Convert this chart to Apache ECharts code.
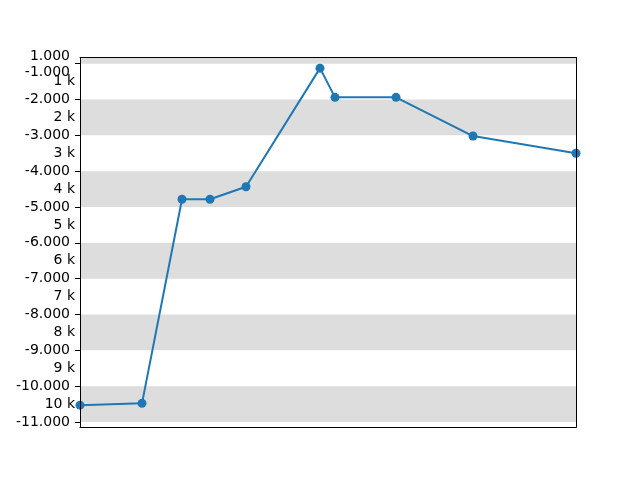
<!DOCTYPE html>
<html>
<head>
<meta charset="utf-8">
<script src="https://cdn.jsdelivr.net/npm/echarts@6/dist/echarts.min.js"></script>
<style>html,body{margin:0;padding:0;background:#fff}#c{width:640px;height:480px}</style>
</head>
<body>
<div id="c"></div>
<script>
// Data
var xValues = [0, 62, 102, 130, 166, 240, 255, 316, 393, 496];
var yValues = [-10530, -10480, -4785, -4785, -4435, -1125, -1940, -1940, -3020, -3500];

// Tick labels
var majorTickValues = [-1000, -2000, -3000, -4000, -5000, -6000, -7000, -8000, -9000, -10000, -11000];
var majorTickLabels = ['1.000\n-1.000', '-2.000', '-3.000', '-4.000', '-5.000', '-6.000', '-7.000', '-8.000', '-9.000', '-10.000', '-11.000'];
var minorTickValues = [-1500, -2500, -3500, -4500, -5500, -6500, -7500, -8500, -9500, -10500];
var minorTickLabels = ['1 k', '2 k', '3 k', '4 k', '5 k', '6 k', '7 k', '8 k', '9 k', '10 k'];

// Shaded horizontal bands
var bandStarts = [0, -2000, -4000, -6000, -8000, -10000];
var bandEnds = [-1000, -3000, -5000, -7000, -9000, -11000];

var yMin = -11146, yMax = -831;
var xMin = 0, xMax = 496;

var font = 'DejaVu Sans';
var chart = echarts.init(document.getElementById('c'), null, {renderer: 'canvas'});

var points = xValues.map(function (x, i) { return [x, yValues[i]]; });
var bands = bandStarts.map(function (s, i) { return [{yAxis: s}, {yAxis: bandEnds[i]}]; });

var lineStyle = {color: '#000', width: 1};

chart.setOption({
  animation: false,
  backgroundColor: '#fff',
  grid: {left: 80, right: 64, top: 57.6, bottom: 52.8, containLabel: false},
  xAxis: [
    {type: 'value', min: xMin, max: xMax, position: 'bottom', z: 10,
      axisLine: {show: true, onZero: false, lineStyle: lineStyle},
      axisTick: {show: false}, axisLabel: {show: false}, splitLine: {show: false}},
    {type: 'value', min: xMin, max: xMax, position: 'top', z: 10,
      axisLine: {show: true, onZero: false, lineStyle: lineStyle},
      axisTick: {show: false}, axisLabel: {show: false}, splitLine: {show: false}}
  ],
  yAxis: [
    {type: 'value', min: yMin, max: yMax, position: 'left', z: 10,
      axisLine: {show: true, onZero: false, lineStyle: lineStyle},
      axisTick: {show: true, length: 5, customValues: majorTickValues, lineStyle: lineStyle},
      axisLabel: {show: true, customValues: majorTickValues, margin: 10,
        fontFamily: font, fontSize: 14, color: '#000',
        rich: {
          t: {fontFamily: font, fontSize: 14, color: '#000', lineHeight: 17, padding: [3, 0, 0, 0]},
          b: {fontFamily: font, fontSize: 14, color: '#000', lineHeight: 17}
        },
        formatter: function (v) {
          var i = majorTickValues.indexOf(Math.round(v));
          if (i < 0) return '';
          var lab = majorTickLabels[i];
          if (lab.indexOf('\n') >= 0) {
            var parts = lab.split('\n');
            return '{t|' + parts[0] + '}\n{b|' + parts[1] + '}';
          }
          return lab;
        }},
      splitLine: {show: false}},
    {type: 'value', min: yMin, max: yMax, position: 'left', z: 10,
      axisLine: {show: false},
      axisTick: {show: false},
      axisLabel: {show: true, customValues: minorTickValues, margin: 5,
        fontFamily: font, fontSize: 14, color: '#000',
        formatter: function (v) {
          var i = minorTickValues.indexOf(Math.round(v));
          return i >= 0 ? minorTickLabels[i] : '';
        }},
      splitLine: {show: false}},
    {type: 'value', min: yMin, max: yMax, position: 'right', z: 10,
      axisLine: {show: true, onZero: false, lineStyle: lineStyle},
      axisTick: {show: false}, axisLabel: {show: false}, splitLine: {show: false}}
  ],
  series: [{
    type: 'line',
    xAxisIndex: 0,
    yAxisIndex: 0,
    data: points,
    symbol: 'circle',
    symbolSize: 9,
    showAllSymbol: true,
    clip: false,
    lineStyle: {color: '#1f77b4', width: 2},
    itemStyle: {color: '#1f77b4'},
    markArea: {
      silent: true,
      itemStyle: {color: '#dddddd'},
      data: bands
    },
    z: 5
  }]
});
</script>
</body>
</html>
